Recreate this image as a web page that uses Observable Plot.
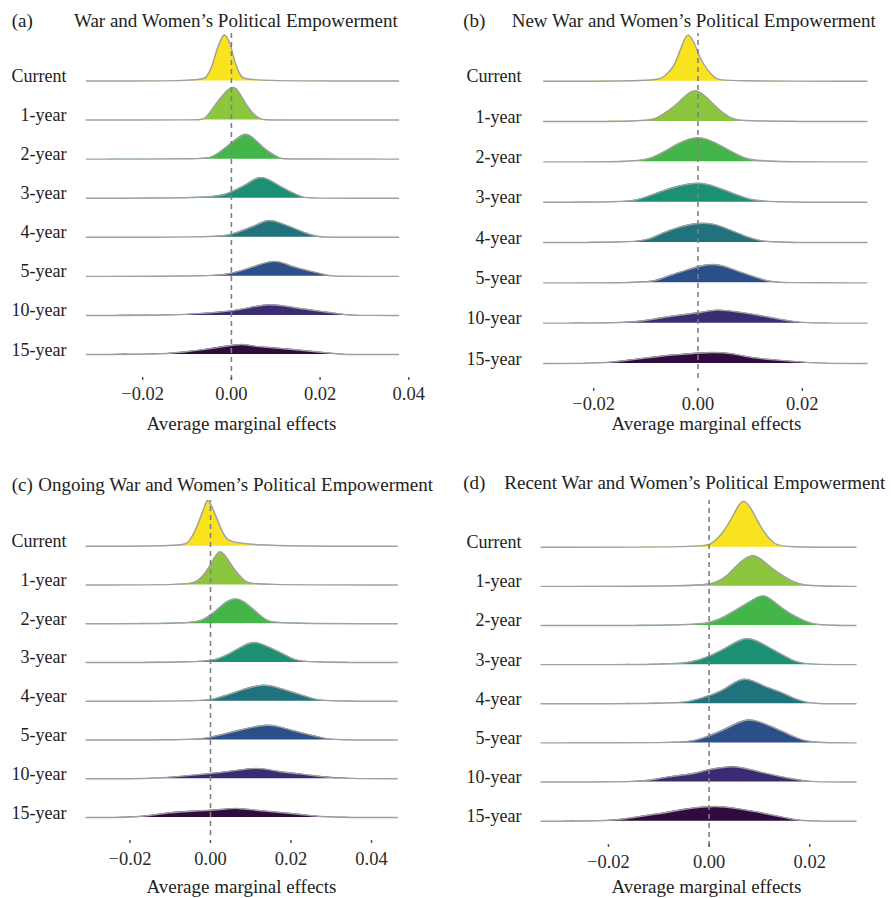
<!DOCTYPE html>
<html>
<head>
<meta charset="utf-8">
<script src="https://cdn.jsdelivr.net/npm/d3@7"></script>
<script src="https://cdn.jsdelivr.net/npm/@observablehq/plot@0.6"></script>
<style>
  html, body { margin: 0; padding: 0; background: #fff; }
  #root { position: relative; width: 891px; height: 898px; overflow: hidden;
          font-family: "Liberation Serif", "Times New Roman", serif; color: #222; }
  .ttl { position: absolute; font-size: 19px; line-height: 19px; white-space: nowrap; }
  .pnl { position: absolute; }
</style>
</head>
<body>
<div id="root"></div>
<script>
// ---------- data ----------
const rowLabels = ["Current", "1-year", "2-year", "3-year", "4-year", "5-year", "10-year", "15-year"];
const rowColors = ["#F9E21E", "#8CC63F", "#44B549", "#1B9072", "#20727D", "#2B4F88", "#3B2B73", "#2F0B40"];
const panelTags = ["(a)", "(b)", "(c)", "(d)"];
const panelTitles = [
  "War and Women\u2019s Political Empowerment",
  "New War and Women\u2019s Political Empowerment",
  "Ongoing War and Women\u2019s Political Empowerment",
  "Recent War and Women\u2019s Political Empowerment"
];
const xLabel = "Average marginal effects";
const ticksA = [-0.02, 0, 0.02, 0.04];
const ticksB = [-0.02, 0, 0.02];
const ticksC = [-0.02, 0, 0.02, 0.04];
const ticksD = [-0.02, 0, 0.02];

// range over which each panel's densities were estimated (x)
const rangeA = [-0.0327, 0.0377];
const rangeB = [-0.0296, 0.0324];
const rangeC = [-0.0309, 0.0464];
const rangeD = [-0.0334, 0.0292];

// density estimates [x, density (scaled)] per horizon
const densA = [
  [[-0.0064,0],[-0.0056,4],[-0.0043,14],[-0.0034,31],[-0.0021,44],[-0.0016,47],[-0.0010,44],[-0.0002,37],[0.0003,27],[0.0011,14],[0.0022,4],[0.0032,0]],
  [[-0.0067,0],[-0.0061,1],[-0.0049,6.7],[-0.0034,16.7],[-0.0016,26.7],[0.0005,35.7],[0.0019,26.7],[0.0032,16.7],[0.0047,6.7],[0.0066,0.5],[0.0075,0]],
  [[-0.0058,0],[-0.0045,2],[-0.0028,6],[-0.0010,12.7],[0.0009,19.3],[0.0033,27.8],[0.0054,19.3],[0.0069,12.7],[0.0088,6],[0.0111,0.5],[0.0120,0]],
  [[-0.0050,0],[-0.0010,4],[0.0013,9],[0.0036,14],[0.0066,23.5],[0.0096,15.7],[0.0115,10.7],[0.0137,5.7],[0.0163,0.5],[0.0172,0]],
  [[-0.0035,0],[-0.0002,2.3],[0.0028,7.3],[0.0058,12.3],[0.0084,18.5],[0.0111,14],[0.0133,10.7],[0.0167,4],[0.0197,0.5],[0.0206,0]],
  [[-0.0058,0],[-0.0010,1.7],[0.0032,6.7],[0.0051,10],[0.0099,17],[0.0126,11.7],[0.0145,9],[0.0178,5],[0.0223,0.5],[0.0232,0]],
  [[-0.0118,0],[-0.0062,2.3],[-0.0002,4],[0.0036,7.3],[0.0087,12.1],[0.0133,8.3],[0.0186,5],[0.0231,2.3],[0.0265,0.3],[0.0275,0]],
  [[-0.0155,0],[-0.0115,2.3],[-0.0062,4.7],[-0.0017,8],[0.0024,11],[0.0051,8],[0.0081,7.3],[0.0118,5.7],[0.0163,4],[0.0208,2],[0.0246,0.3],[0.0256,0]]
];
const densB = [
  [[-0.0078,0],[-0.0066,4],[-0.0046,14],[-0.0037,27.3],[-0.0027,40.7],[-0.0019,49.5],[-0.0006,37.3],[0.0003,24],[0.0018,10.7],[0.0034,2.3],[0.0046,0]],
  [[-0.0097,0],[-0.0078,3.3],[-0.0059,10],[-0.0037,18.3],[-0.0006,36],[0.0021,21.7],[0.0040,11.7],[0.0062,3.3],[0.0080,0]],
  [[-0.0110,0],[-0.0088,4],[-0.0062,10.7],[-0.0037,19],[0.0002,26.5],[0.0034,19],[0.0062,10.7],[0.0088,4],[0.0110,0]],
  [[-0.0142,0],[-0.0114,2.3],[-0.0088,7.3],[-0.0062,12.3],[-0.0037,16.3],[0.0002,20.5],[0.0034,15.7],[0.0066,9],[0.0097,3],[0.0125,0]],
  [[-0.0129,0],[-0.0094,2.7],[-0.0069,9.3],[-0.0043,14.3],[-0.0005,19.6],[0.0027,19.6],[0.0062,12.7],[0.0091,6],[0.0117,2],[0.0138,0]],
  [[-0.0104,0],[-0.0078,2.3],[-0.0056,7.3],[-0.0024,12.3],[0.0030,21.3],[0.0072,12.3],[0.0110,5.7],[0.0136,1.3],[0.0157,0]],
  [[-0.0155,0],[-0.0101,2.3],[-0.0069,5.7],[-0.0024,9],[0.0008,10.7],[0.0034,13.9],[0.0072,11.7],[0.0117,8],[0.0155,4],[0.0187,1.3],[0.0215,0]],
  [[-0.0193,0],[-0.0152,2],[-0.0101,5.3],[-0.0069,7.7],[-0.0024,9.3],[0.0024,11.6],[0.0066,10.3],[0.0091,6.7],[0.0129,4.3],[0.0187,2],[0.0227,0]]
];
const densC = [
  [[-0.0065,0],[-0.0054,4],[-0.0037,15.7],[-0.0025,29],[-0.0012,42.3],[-0.0007,48.5],[0.0008,35.7],[0.0021,22.3],[0.0035,9],[0.0056,0]],
  [[-0.0053,0],[-0.0033,3.3],[-0.0012,11.7],[0.0004,23.3],[0.0025,38],[0.0046,23.3],[0.0066,11.7],[0.0087,3.3],[0.0101,0]],
  [[-0.0044,0],[-0.0017,4],[0.0008,10.7],[0.0029,19],[0.0062,27.5],[0.0095,19],[0.0116,10.7],[0.0137,4],[0.0155,0]],
  [[-0.0028,0],[0.0017,2.7],[0.0050,9.3],[0.0079,16],[0.0108,22],[0.0141,16],[0.0178,9.3],[0.0207,2.7],[0.0234,0]],
  [[-0.0020,0],[0.0008,2],[0.0041,6],[0.0075,11],[0.0133,18],[0.0174,12.7],[0.0215,7.7],[0.0253,2.7],[0.0275,0]],
  [[-0.0053,0],[-0.0008,1.7],[0.0033,5.7],[0.0083,10.7],[0.0145,16.7],[0.0191,10.7],[0.0240,5.7],[0.0282,1.7],[0.0308,0]],
  [[-0.0152,0],[-0.0091,1.7],[-0.0025,4.3],[0.0050,7],[0.0116,12],[0.0166,7],[0.0224,5],[0.0273,2],[0.0342,0]],
  [[-0.0202,0],[-0.0149,1.7],[-0.0108,5],[-0.0025,6.7],[0.0041,8.3],[0.0062,9.8],[0.0124,6.7],[0.0207,4],[0.0253,1.7],[0.0300,0]]
];
const densD = [
  [[-0.0010,0],[0.0006,3.3],[0.0026,13.3],[0.0043,26.7],[0.0056,40],[0.0069,49.5],[0.0086,36.7],[0.0099,23.3],[0.0116,10],[0.0132,2.7],[0.0147,0]],
  [[-0.0017,0],[0.0013,3.3],[0.0036,10],[0.0053,20],[0.0086,34.5],[0.0109,25],[0.0132,15],[0.0165,5],[0.0190,0]],
  [[-0.0024,0],[0.0006,3.3],[0.0033,9],[0.0059,17.3],[0.0082,24],[0.0109,32.8],[0.0132,22.3],[0.0158,12.3],[0.0192,4],[0.0213,0]],
  [[-0.0063,0],[-0.0034,2.7],[-0.0001,7.7],[0.0033,16],[0.0074,29.5],[0.0106,21],[0.0135,12.7],[0.0165,4.3],[0.0187,0]],
  [[-0.0063,0],[-0.0034,2.7],[-0.0001,7.7],[0.0033,14.3],[0.0069,28.8],[0.0106,17.7],[0.0139,12.7],[0.0165,6],[0.0188,2],[0.0207,0]],
  [[-0.0063,0],[-0.0027,2],[-0.0001,7],[0.0033,13.7],[0.0078,26.2],[0.0112,18.7],[0.0145,12],[0.0178,3.7],[0.0207,0]],
  [[-0.0136,0],[-0.0107,2.7],[-0.0073,6],[-0.0034,7.7],[-0.0001,12.7],[0.0039,15.7],[0.0066,14.8],[0.0106,9.3],[0.0152,4.3],[0.0192,1],[0.0213,0]],
  [[-0.0209,0],[-0.0166,2.3],[-0.0126,5.7],[-0.0080,9],[-0.0047,12.3],[0.0013,15.9],[0.0059,12.3],[0.0099,9],[0.0139,4.7],[0.0172,1.3],[0.0194,0]]
];

const densities = [densA, densB, densC, densD];
const ranges = [rangeA, rangeB, rangeC, rangeD];
const tickSets = [ticksA, ticksB, ticksC, ticksD];

// ---------- layout (page geometry) ----------
const layout = [
  {left: 0,   top: 30,  width: 445, height: 410, x0: 230.9, k: 4435, domain: [-0.03, 0.04],  frameBottom: 377, base0: 80.5,  base7: 354,   labelRight: 66, tickBase: 399, axisBase: 429.5, axisCenter: 241, zero: [33, 380],  tagX: 11.7, titleX: 74,   titleBase: 27},
  {left: 445, top: 30,  width: 446, height: 410, x0: 252.5, k: 5215, domain: [-0.03, 0.03],  frameBottom: 388, base0: 80.7,  base7: 363,   labelRight: 76, tickBase: 409.5, axisBase: 429.5, axisCenter: 261, zero: [33, 378],  tagX: 18.3, titleX: 66.7, titleBase: 27},
  {left: 0,   top: 495, width: 445, height: 403, x0: 210,   k: 4025, domain: [-0.03, 0.045], frameBottom: 840, base0: 545.7, base7: 817,   labelRight: 66, tickBase: 864.5, axisBase: 892,   axisCenter: 241, zero: [500, 835], tagX: 11.7, titleX: 38.3, titleBase: 491},
  {left: 445, top: 495, width: 446, height: 403, x0: 263.6, k: 5032, domain: [-0.03, 0.03],  frameBottom: 844, base0: 546.7, base7: 820.7, labelRight: 76, tickBase: 867.5, axisBase: 892,   axisCenter: 261, zero: [500, 846], tagX: 18.3, titleX: 59.3, titleBase: 488.5}
];

const root = document.getElementById("root");
const tickFont = 18.5;

layout.forEach((L, i) => {
  // titles
  const tag = document.createElement("div");
  tag.className = "ttl";
  tag.textContent = panelTags[i];
  tag.style.left = (L.left + L.tagX) + "px";
  tag.style.top = (L.titleBase - 15.9) + "px";
  root.appendChild(tag);
  const ttl = document.createElement("div");
  ttl.className = "ttl";
  ttl.textContent = panelTitles[i];
  ttl.style.left = (L.left + L.titleX) + "px";
  ttl.style.top = (L.titleBase - 15.9) + "px";
  root.appendChild(ttl);

  const dens = densities[i], range = ranges[i];
  const frameH = L.frameBottom - L.top;
  const ML = L.x0 + L.domain[0] * L.k;
  const MR = L.width - (L.x0 + L.domain[1] * L.k);
  const step = (L.base7 - L.base0) / 7;
  const baseVal = r => L.frameBottom - (L.base0 + r * step);

  const pts = [];
  dens.forEach((ridge, r) => {
    const full = [[range[0], 0], ...ridge, [range[1], 0]];
    for (const [x, d] of full) pts.push({row: rowLabels[r], x, base: baseVal(r), top: baseVal(r) + d});
  });
  const fc = (ML + L.width - MR) / 2;

  const chart = Plot.plot({
    width: L.width,
    height: L.height,
    marginLeft: ML,
    marginRight: MR,
    marginTop: 0,
    marginBottom: L.height - frameH,
    x: {domain: L.domain, axis: null, label: null},
    y: {domain: [0, frameH], axis: null, label: null},
    color: {domain: rowLabels, range: rowColors},
    style: {fontFamily: '"Liberation Serif", "Times New Roman", serif', fontSize: "18px", color: "#222", background: "transparent", overflow: "visible"},
    marks: [
      Plot.areaY(pts, {x: "x", y1: "base", y2: "top", z: "row", fill: "row", curve: "basis"}),
      Plot.lineY(pts, {x: "x", y: "top", z: "row", stroke: "#a0a0a0", strokeWidth: 1.4, curve: "basis"}),
      Plot.ruleX([{x: 0, y1: L.frameBottom - L.zero[1], y2: L.frameBottom - L.zero[0]}],
        {x: "x", y1: "y1", y2: "y2", stroke: "#808080", strokeWidth: 1.6, strokeDasharray: "5,4"}),
      Plot.text(rowLabels, {y: (d, r) => baseVal(r), text: d => d, frameAnchor: "left", textAnchor: "end",
        lineAnchor: "bottom", dx: L.labelRight - ML, dy: 1, fontSize: 18, fill: "#222"}),
      Plot.axisX({ticks: tickSets[i], tickFormat: d3.format(".2f"), tickSize: 3,
        tickPadding: L.tickBase - 0.71 * tickFont - L.frameBottom - 3, fontSize: tickFont,
        stroke: "#555", strokeWidth: 1.5, fill: "#2a2a2a", label: null}),
      Plot.text([xLabel], {frameAnchor: "bottom", lineAnchor: "bottom", text: d => d,
        dx: L.axisCenter - fc, dy: L.axisBase - L.frameBottom, fontSize: 19, fill: "#222"})
    ]
  });
  const wrap = document.createElement("div");
  wrap.className = "pnl";
  wrap.style.left = L.left + "px";
  wrap.style.top = L.top + "px";
  wrap.style.width = L.width + "px";
  wrap.appendChild(chart);
  root.appendChild(wrap);
});
</script>
</body>
</html>
